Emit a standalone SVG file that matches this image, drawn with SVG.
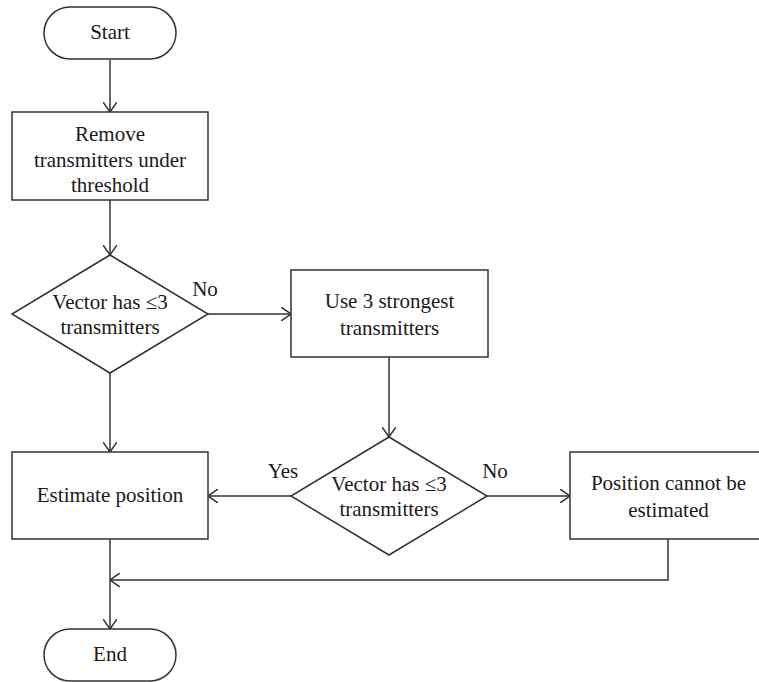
<svg xmlns="http://www.w3.org/2000/svg" width="759" height="682" viewBox="0 0 759 682">
  <style>
    .shape { fill: #ffffff; stroke: #333333; stroke-width: 1.5; }
    .link { fill: none; stroke: #333333; stroke-width: 1.5; }
    text { font-family: "Liberation Serif", "Times New Roman", serif; font-size: 21px; fill: #1a1a1a; text-anchor: middle; }
  </style>
  <defs>
    <marker id="arrow" viewBox="0 0 10 14" refX="10" refY="7" markerWidth="10" markerHeight="14" markerUnits="userSpaceOnUse" orient="auto">
      <path d="M0,0 L10,7 L0,14" fill="none" stroke="#333333" stroke-width="1.5"/>
    </marker>
  </defs>

  <!-- connectors and branch labels -->
  <g id="connectors">
    <line class="link" x1="110" y1="60" x2="110" y2="112" marker-end="url(#arrow)"/>
    <line class="link" x1="110" y1="200" x2="110" y2="255" marker-end="url(#arrow)"/>
    <line class="link" x1="208" y1="314" x2="291" y2="314" marker-end="url(#arrow)"/>
    <line class="link" x1="389" y1="357" x2="389" y2="437" marker-end="url(#arrow)"/>
    <line class="link" x1="110" y1="373" x2="110" y2="452" marker-end="url(#arrow)"/>
    <line class="link" x1="291" y1="496" x2="208" y2="496" marker-end="url(#arrow)"/>
    <line class="link" x1="487" y1="496" x2="570" y2="496" marker-end="url(#arrow)"/>
    <line class="link" x1="110" y1="539" x2="110" y2="629" marker-end="url(#arrow)"/>
    <polyline class="link" points="668,539 668,580 110,580" marker-end="url(#arrow)"/>
    <text x="205" y="296">No</text>
    <text x="283" y="478">Yes</text>
    <text x="495" y="478">No</text>
  </g>

  <g id="start">
    <rect class="shape" x="44" y="7" width="132" height="52" rx="26" ry="26"/>
    <text x="110" y="39">Start</text>
  </g>

  <g id="remove">
    <rect class="shape" x="12" y="112" width="196" height="88"/>
    <text x="110" y="141">Remove</text>
    <text x="110" y="167">transmitters under</text>
    <text x="110" y="192">threshold</text>
  </g>

  <g id="check1">
    <polygon class="shape" points="110,255 208,314 110,373 12,314"/>
    <text x="110" y="309">Vector has ≤3</text>
    <text x="110" y="334">transmitters</text>
  </g>

  <g id="strongest">
    <rect class="shape" x="291" y="270" width="197" height="87"/>
    <text x="389.5" y="308">Use 3 strongest</text>
    <text x="389.5" y="335">transmitters</text>
  </g>

  <g id="check2">
    <polygon class="shape" points="389,437 487,496 389,555 291,496"/>
    <text x="389" y="491">Vector has ≤3</text>
    <text x="389" y="516">transmitters</text>
  </g>

  <g id="estimate">
    <rect class="shape" x="12" y="452" width="196" height="87"/>
    <text x="110" y="502">Estimate position</text>
  </g>

  <g id="cannot">
    <rect class="shape" x="570" y="452" width="197" height="87"/>
    <text x="668.5" y="490">Position cannot be</text>
    <text x="668.5" y="517">estimated</text>
  </g>

  <g id="end">
    <rect class="shape" x="44" y="629" width="132" height="52" rx="26" ry="26"/>
    <text x="110" y="661">End</text>
  </g>
</svg>
